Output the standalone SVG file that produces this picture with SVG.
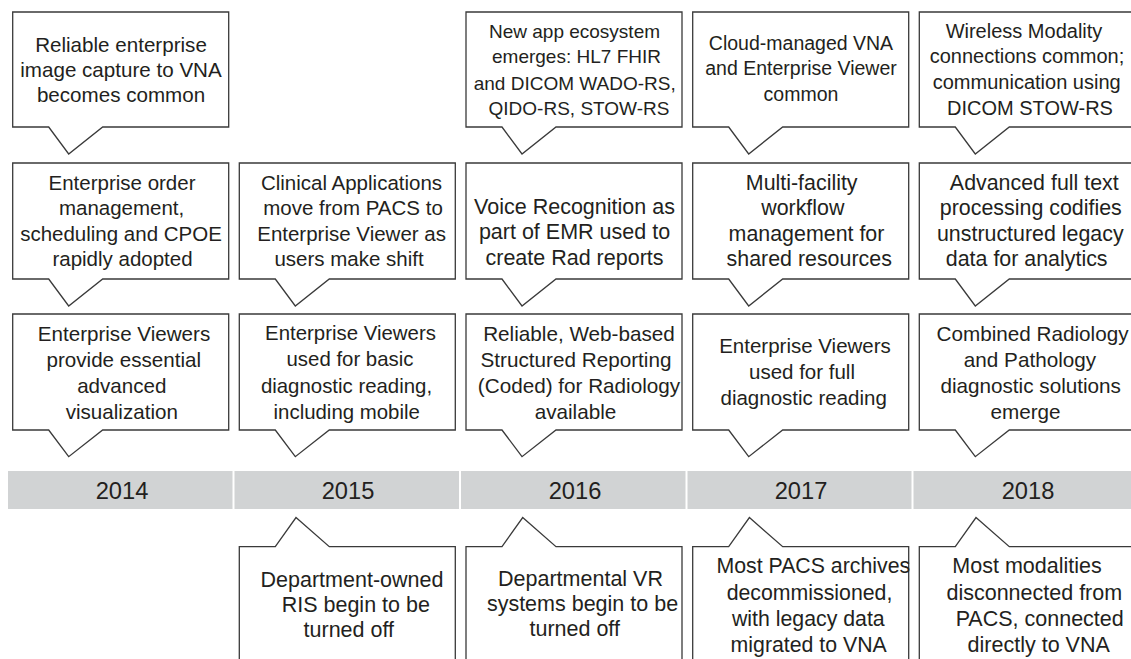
<svg xmlns="http://www.w3.org/2000/svg" width="1131" height="659" viewBox="0 0 1131 659">
<style>
.box{fill:#fff;stroke:#3a3a3a;stroke-width:1.3;stroke-linejoin:miter}
.t{font-family:"Liberation Sans",Arial,Helvetica,sans-serif;fill:#231f20;text-anchor:middle}
.seg{fill:#d1d3d4}
.yr{font-family:"Liberation Sans",Arial,Helvetica,sans-serif;fill:#231f20;text-anchor:middle;font-size:23.7px}
</style>
<rect width="1131" height="659" fill="#fff"/>

<g id="timeline">
<rect class="seg" x="8" y="471" width="224.5" height="38"/>
<rect class="seg" x="234.5" y="471" width="224.5" height="38"/>
<rect class="seg" x="461" y="471" width="224.5" height="38"/>
<rect class="seg" x="687.5" y="471" width="224" height="38"/>
<rect class="seg" x="913.5" y="471" width="217.5" height="38"/>
<text class="yr" x="122" y="498.5">2014</text>
<text class="yr" x="348" y="498.5">2015</text>
<text class="yr" x="575" y="498.5">2016</text>
<text class="yr" x="801" y="498.5">2017</text>
<text class="yr" x="1028" y="498.5">2018</text>
</g>

<g id="connectors"></g>

<!-- Row 1 -->
<g id="r1c1">
<path class="box" d="M12.7 12 H228.7 V127 H102.7 L68.7 154 L48.7 127 H12.7 Z"/>
<text class="t" style="font-size:20.6px"><tspan x="121" y="51.7">Reliable enterprise</tspan><tspan x="121" y="77">image capture to VNA</tspan><tspan x="121" y="102.3">becomes common</tspan></text>
</g>
<g id="r1c3">
<path class="box" d="M466 12 H682 V127 H556 L522 154 L502 127 H466 Z"/>
<text class="t" style="font-size:19px"><tspan x="574.5" y="37.7">New app ecosystem</tspan><tspan x="576.5" y="63.3">emerges: HL7 FHIR</tspan><tspan x="574.7" y="89.5">and DICOM WADO-RS,</tspan><tspan x="579" y="115">QIDO-RS, STOW-RS</tspan></text>
</g>
<g id="r1c4">
<path class="box" d="M692.7 12 H908.7 V127 H782.7 L748.7 154 L728.7 127 H692.7 Z"/>
<text class="t" style="font-size:19.5px"><tspan x="801" y="49.5">Cloud-managed VNA</tspan><tspan x="801" y="75">and Enterprise Viewer</tspan><tspan x="801" y="100.5">common</tspan></text>
</g>
<g id="r1c5">
<path class="box" d="M919.3 12 H1135.3 V127 H1009.3 L975.3 154 L955.3 127 H919.3 Z"/>
<text class="t" style="font-size:20px"><tspan x="1024" y="37.5">Wireless Modality</tspan><tspan x="1027" y="63.3">connections common;</tspan><tspan x="1026.7" y="89.3">communication using</tspan><tspan x="1030" y="115">DICOM STOW-RS</tspan></text>
</g>

<!-- Row 2 -->
<g id="r2c1">
<path class="box" d="M12.7 163 H228.7 V279 H102.7 L68.7 306 L48.7 279 H12.7 Z"/>
<text class="t" style="font-size:20.5px"><tspan x="122" y="190">Enterprise order</tspan><tspan x="121.6" y="215.3">management,</tspan><tspan x="121" y="240.6">scheduling and CPOE</tspan><tspan x="122.5" y="266">rapidly adopted</tspan></text>
</g>
<g id="r2c2">
<path class="box" d="M239.3 163 H455.3 V279 H329.3 L295.3 306 L275.3 279 H239.3 Z"/>
<text class="t" style="font-size:20.5px"><tspan x="351.5" y="190">Clinical Applications</tspan><tspan x="353" y="215.3">move from PACS to</tspan><tspan x="351.6" y="240.6">Enterprise Viewer as</tspan><tspan x="349" y="266">users make shift</tspan></text>
</g>
<g id="r2c3">
<path class="box" d="M466 163 H682 V279 H556 L522 306 L502 279 H466 Z"/>
<text class="t" style="font-size:21.5px"><tspan x="574.5" y="213.5">Voice Recognition as</tspan><tspan x="574.5" y="239">part of EMR used to</tspan><tspan x="574.5" y="264.5">create Rad reports</tspan></text>
</g>
<g id="r2c4">
<path class="box" d="M692.7 163 H908.7 V279 H782.7 L748.7 306 L728.7 279 H692.7 Z"/>
<text class="t" style="font-size:21.4px"><tspan x="801.7" y="189.5">Multi-facility</tspan><tspan x="802.8" y="215">workflow</tspan><tspan x="806.5" y="240.5">management for</tspan><tspan x="809.2" y="265.5">shared resources</tspan></text>
</g>
<g id="r2c5">
<path class="box" d="M919.3 163 H1135.3 V279 H1009.3 L975.3 306 L955.3 279 H919.3 Z"/>
<text class="t" style="font-size:21.4px"><tspan x="1034.3" y="189.5">Advanced full text</tspan><tspan x="1030.8" y="215">processing codifies</tspan><tspan x="1030.3" y="240.5">unstructured legacy</tspan><tspan x="1026.7" y="265.5">data for analytics</tspan></text>
</g>

<!-- Row 3 -->
<g id="r3c1">
<path class="box" d="M12.7 314 H228.7 V430 H102.7 L68.7 456.7 L48.7 430 H12.7 Z"/>
<text class="t" style="font-size:20.6px"><tspan x="124" y="340.5">Enterprise Viewers</tspan><tspan x="123.8" y="366.5">provide essential</tspan><tspan x="121.8" y="392.5">advanced</tspan><tspan x="121.8" y="418.5">visualization</tspan></text>
</g>
<g id="r3c2">
<path class="box" d="M239.3 314 H455.3 V430 H329.3 L295.3 456.7 L275.3 430 H239.3 Z"/>
<text class="t" style="font-size:20.4px"><tspan x="350.5" y="340">Enterprise Viewers</tspan><tspan x="350" y="366">used for basic</tspan><tspan x="346.5" y="392.5">diagnostic reading,</tspan><tspan x="346.7" y="418.5">including mobile</tspan></text>
</g>
<g id="r3c3">
<path class="box" d="M466 314 H682 V430 H556 L522 456.7 L502 430 H466 Z"/>
<text class="t" style="font-size:20.7px"><tspan x="579" y="340.5">Reliable, Web-based</tspan><tspan x="576" y="366.5">Structured Reporting</tspan><tspan x="579" y="392.5">(Coded) for Radiology</tspan><tspan x="575.5" y="418.5">available</tspan></text>
</g>
<g id="r3c4">
<path class="box" d="M692.7 314 H908.7 V430 H782.7 L748.7 456.7 L728.7 430 H692.7 Z"/>
<text class="t" style="font-size:20.5px"><tspan x="805" y="353">Enterprise Viewers</tspan><tspan x="802" y="379">used for full</tspan><tspan x="803.7" y="405">diagnostic reading</tspan></text>
</g>
<g id="r3c5">
<path class="box" d="M919.3 314 H1135.3 V430 H1009.3 L975.3 456.7 L955.3 430 H919.3 Z"/>
<text class="t" style="font-size:20.7px"><tspan x="1032.5" y="340.5">Combined Radiology</tspan><tspan x="1030" y="366.5">and Pathology</tspan><tspan x="1030.7" y="392.5">diagnostic solutions</tspan><tspan x="1025.5" y="418.5">emerge</tspan></text>
</g>

<!-- Bottom row -->
<g id="b2">
<path class="box" d="M239.3 546.7 H275.3 L296 517.5 L329.3 546.7 H455.3 V680 H239.3 Z"/>
<text class="t" style="font-size:21.5px"><tspan x="352" y="586.7">Department-owned</tspan><tspan x="355.8" y="611.7">RIS begin to be</tspan><tspan x="348.8" y="636.7">turned off</tspan></text>
</g>
<g id="b3">
<path class="box" d="M466 546.7 H502 L522.7 517.5 L556 546.7 H682 V680 H466 Z"/>
<text class="t" style="font-size:21.5px"><tspan x="580.5" y="586">Departmental VR</tspan><tspan x="582.5" y="611">systems begin to be</tspan><tspan x="574.7" y="636">turned off</tspan></text>
</g>
<g id="b4">
<path class="box" d="M692.7 546.7 H728.7 L749.4 517.5 L782.7 546.7 H908.7 V680 H692.7 Z"/>
<text class="t" style="font-size:21.3px"><tspan x="813.3" y="573.3">Most PACS archives</tspan><tspan x="809.5" y="599.5">decommissioned,</tspan><tspan x="808.3" y="625.7">with legacy data</tspan><tspan x="808.7" y="651.7">migrated to VNA</tspan></text>
</g>
<g id="b5">
<path class="box" d="M919.3 546.7 H955.3 L976 517.5 L1009.3 546.7 H1135.3 V680 H919.3 Z"/>
<text class="t" style="font-size:21.5px"><tspan x="1027" y="573.3">Most modalities</tspan><tspan x="1034.3" y="599.5">disconnected from</tspan><tspan x="1039.7" y="625.7">PACS, connected</tspan><tspan x="1038.7" y="651.7">directly to VNA</tspan></text>
</g>
</svg>
